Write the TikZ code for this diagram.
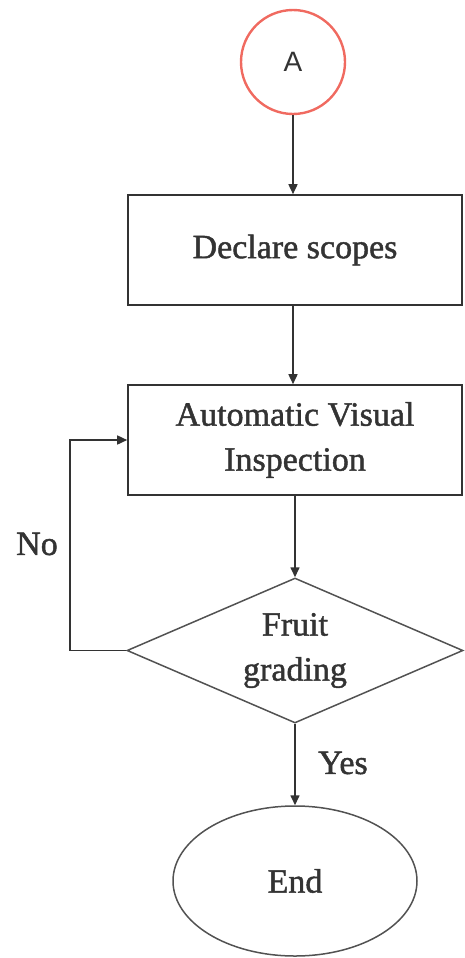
\documentclass[tikz,border=0pt]{standalone}
\usepackage{fontspec}
\setmainfont[UprightFeatures={FakeBold=1.3}]{Liberation Serif}
\newfontfamily\labelsans{Liberation Sans}
\usetikzlibrary{shapes.geometric,arrows.meta}
\definecolor{inkgray}{HTML}{333333}
\definecolor{circred}{HTML}{F06A60}
\tikzset{
  every node/.style={text=inkgray},
  bigtext/.style={font=\fontsize{34}{45}\selectfont},
  procbox/.style={draw=inkgray, line width=1.6pt, rectangle, minimum width=334pt, minimum height=110pt, align=center, bigtext},
  decbox/.style={draw=inkgray!85, line width=1.5pt, diamond, minimum width=336pt, minimum height=145pt, aspect=2.3, inner sep=0pt, align=center, bigtext},
  endbox/.style={draw=inkgray!85, line width=1.5pt, ellipse, minimum width=244pt, minimum height=150pt, bigtext},
  startcirc/.style={draw=circred, line width=2.4pt, circle, minimum size=104pt, font=\labelsans\fontsize{28}{34}\selectfont},
  flow/.style={draw=inkgray, line width=1.6pt, -{Triangle[length=10pt,width=9pt]}},
  edgelabel/.style={bigtext}
}
\begin{document}
\begin{tikzpicture}[x=1pt,y=-1pt]
\useasboundingbox (0,0) rectangle (464,958);
\node[startcirc] (a) at (293,62) {A};
\node[procbox] (declare) at (295,250) {Declare scopes};
\node[procbox] (inspect) at (295,440) {Automatic Visual\\Inspection};
\node[decbox] (grade) at (295,650.5) {Fruit\\grading};
\node[endbox] (end) at (295,881) {End};
\coordinate (looptop) at (70,440);
\coordinate (loopbot) at (grade.west -| looptop);
\draw[flow] (a.south -| 293,0) -- (declare.north -| 293,0);
\draw[flow] (declare.south -| 293,0) -- (inspect.north -| 293,0);
\draw[flow] (inspect.south) -- (grade.north);
\draw[flow] (grade.south) -- (end.north);
\draw[flow] (grade.west) -- (loopbot) -- (looptop) -- (inspect.west);
\node[edgelabel] (no) at (37,544) {No};
\node[edgelabel] (yes) at (343,763) {Yes};
\end{tikzpicture}
\end{document}
